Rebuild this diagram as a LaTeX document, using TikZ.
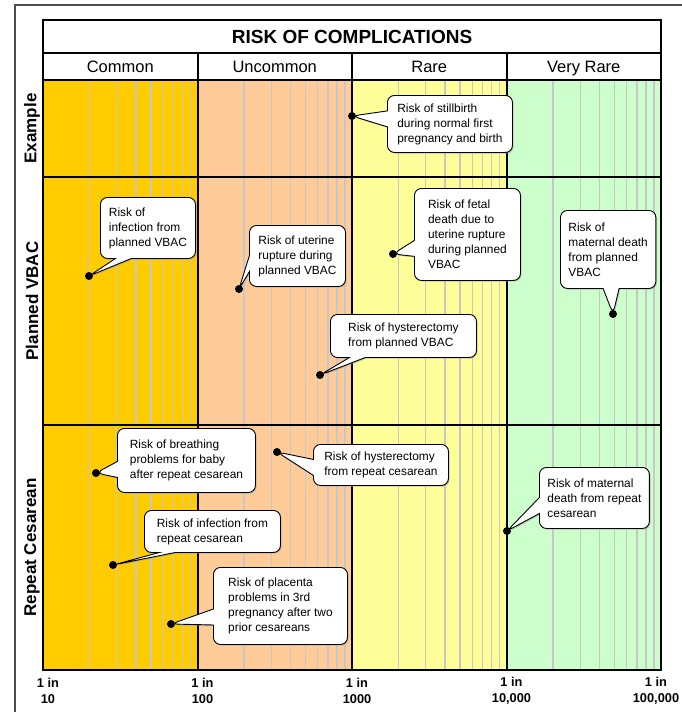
\documentclass[tikz,border=0pt]{standalone}
\usepackage{fontspec}
\setmainfont{Liberation Sans}
\usetikzlibrary{shapes.callouts,shadows}
\definecolor{cmn}{HTML}{FFCC00}
\definecolor{unc}{HTML}{FFCC99}
\definecolor{rar}{HTML}{FFFF99}
\definecolor{vry}{HTML}{CCFFCC}

\begin{document}
\begin{tikzpicture}[x=1pt,y=-1pt,
	grid/.style={black!22,line width=1.2pt},
	frame/.style={line width=2pt},
	risk/.style={rectangle callout,draw,fill=white,line width=0.9pt,rounded corners=7pt,
		anchor=north west,align=left,inner xsep=8pt,inner ysep=3pt,callout pointer width=16pt,
		font=\fontsize{11.9}{15}\selectfont,
		drop shadow={shadow xshift=1.2pt,shadow yshift=-1.2pt,fill=black!40}},
	head/.style={font=\fontsize{16.5}{18}\selectfont},
	side/.style={rotate=90,font=\bfseries\fontsize{17}{19}\selectfont},
	axis/.style={align=center,font=\bfseries\fontsize{12.8}{16}\selectfont}]
	\useasboundingbox (0,0) rectangle (682,712);
	\fill[white] (0,0) rectangle (682,712);
	\draw[black!70,line width=1.5pt] (682,5) -- (15,5) -- (15,712);
	\foreach \c [count=\i from 0] in {cmn,unc,rar,vry}
		\fill[\c] ({43+154.5*\i},80) rectangle ++(154.5,590);
	\foreach \d in {0,...,3}
		\foreach \k in {2,...,9}
			\draw[grid] ({43+154.5*(\d+log10(\k))},80) -- ++(0,590);
	\draw[frame] (43,20) rectangle (661,670);
	\draw[frame] (43,53) -- (661,53) (43,80) -- (661,80)
		(43,177) -- (661,177) (43,425) -- (661,425);
	\foreach \i in {1,2,3}
		\draw[frame] ({43+154.5*\i},53) -- ++(0,617);
	\node[font=\bfseries\fontsize{19}{21}\selectfont] (title) at (352,36.5) {RISK OF COMPLICATIONS};
	\foreach \t [count=\i from 0] in {Common,Uncommon,Rare,Very Rare}
		\node[head,anchor=base] (h\i) at ({120.25+154.5*\i},72.5) {\t};
	\node[side] (ex) at (32,128.5) {Example};
	\node[side] (pv) at (32,301) {Planned VBAC};
	\node[side] (rc) at (32,547.5) {Repeat Cesarean};
	\foreach \t [count=\i from 0, evaluate=\i as \x using {min(48+154.5*\i,656)}] in {10,100,1000,{10,000},{100,000}}
		\node[axis] (a\i) at (\x,691) {1 in\\\t};
	\coordinate (d1) at (352,116);
	\coordinate (d2) at (89,276);
	\coordinate (d3) at (239,289);
	\coordinate (d4) at (320,375);
	\coordinate (d5) at (393,254);
	\coordinate (d6) at (613,314);
	\coordinate (d7) at (96,473);
	\coordinate (d8) at (277,452);
	\coordinate (d9) at (113,565);
	\coordinate (d10) at (171,624);
	\coordinate (d11) at (507,531);
	\node[risk,minimum width=125pt,minimum height=57pt,callout absolute pointer={(d1)}] (r1) at (387,95)
		{Risk of stillbirth\\during normal first\\pregnancy and birth};
	\node[risk,minimum width=95pt,minimum height=61pt,callout absolute pointer={(d2)}] (r2) at (100,197)
		{Risk of\\infection from\\planned VBAC};
	\node[risk,minimum width=96pt,minimum height=61pt,callout absolute pointer={(d3)}] (r3) at (249,225)
		{Risk of uterine\\rupture during\\planned VBAC};
	\node[risk,minimum width=146pt,minimum height=43pt,callout absolute pointer={(d4)}] (r4) at (330,314)
		{Risk of hysterectomy\\from planned VBAC};
	\node[risk,minimum width=106pt,minimum height=92pt,callout absolute pointer={(d5)}] (r5) at (414,188)
		{Risk of fetal\\death due to\\uterine rupture\\during planned\\VBAC};
	\node[risk,minimum width=94pt,minimum height=78pt,callout absolute pointer={(d6)}] (r6) at (560,210)
		{Risk of\\maternal death\\from planned\\VBAC};
	\node[risk,minimum width=138pt,minimum height=64pt,callout absolute pointer={(d7)}] (r7) at (117,428)
		{Risk of breathing\\problems for baby\\after repeat cesarean};
	\node[risk,minimum width=135pt,minimum height=41pt,callout absolute pointer={(d8)}] (r8) at (313,444)
		{Risk of hysterectomy\\from repeat cesarean};
	\node[risk,minimum width=136pt,minimum height=42pt,callout absolute pointer={(d9)}] (r9) at (144,510)
		{Risk of infection from\\repeat cesarean};
	\node[risk,minimum width=134pt,minimum height=77pt,callout absolute pointer={(d10)}] (r10) at (213,567)
		{Risk of placenta\\problems in 3rd\\pregnancy after two\\prior cesareans};
	\node[risk,minimum width=109pt,minimum height=61pt,callout absolute pointer={(d11)}] (r11) at (539,467)
		{Risk of maternal\\death from repeat\\cesarean};
	\foreach \i in {1,...,11}
		\fill (d\i) circle (4pt);
\end{tikzpicture}
\end{document}
